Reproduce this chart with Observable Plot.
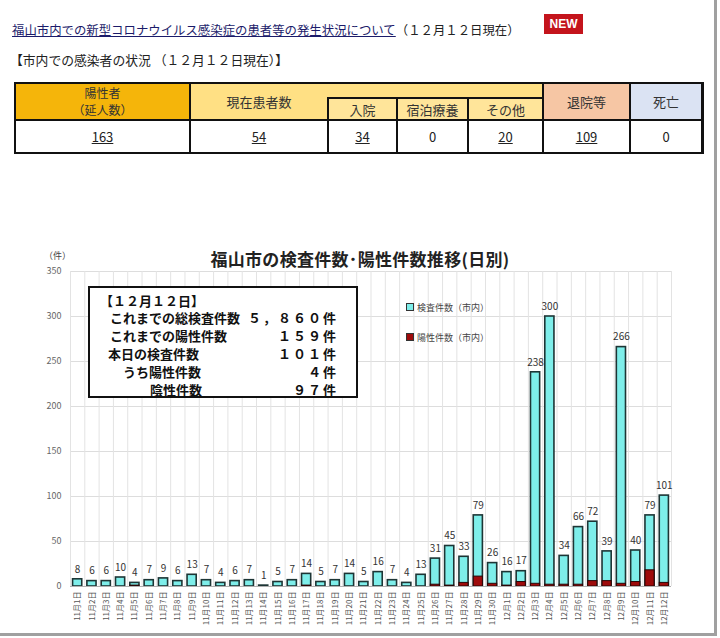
<!DOCTYPE html>
<html><head><meta charset="utf-8">
<script src="https://cdn.jsdelivr.net/npm/d3@7"></script>
<script src="https://cdn.jsdelivr.net/npm/@observablehq/plot@0.6"></script>
<style>
html,body{margin:0;padding:0;background:#fff;}
body{font-family:"Noto Sans CJK JP","Noto Sans",sans-serif;color:#222;}
#page{position:relative;width:714px;height:633px;border-right:3px solid #a0a0a0;border-bottom:3px solid #a0a0a0;overflow:hidden;background:#fff;}
.abs{position:absolute;}
#line1{left:12px;top:21px;font-size:12.4px;white-space:nowrap;}
#line1 a{color:#1b1b6a;text-decoration:underline;}
#newb{left:544px;top:14px;width:39px;height:20px;background:#c4141c;color:#fff;font:bold 12px "Liberation Sans",Arial,sans-serif;text-align:center;line-height:20px;}
#line2{left:10px;top:50px;font-size:12.8px;white-space:nowrap;}
#tbl{left:14px;top:82px;width:690px;height:72px;background:#111;}
.cell{position:absolute;display:flex;align-items:center;justify-content:center;text-align:center;font-size:13px;line-height:15px;color:#333;}
.val{background:#fff;font-size:13px;color:#222;}
.u{text-decoration:underline;}
.tl{position:absolute;left:0;width:100%;text-align:center;font-size:12px;line-height:16px;height:16px;color:#333;}
#chart{left:0;top:240px;width:720px;}
#ctitle{left:0;width:720px;top:246px;text-align:center;font-size:17px;font-weight:bold;color:#222;letter-spacing:0.3px;}
#unit{left:44px;top:249px;font-size:9px;color:#444;}
#inset{left:88px;top:286px;width:270px;height:112px;box-sizing:border-box;border:2px solid #111;background:#fff;}
#inset .r{position:absolute;font-size:13px;font-weight:bold;color:#111;white-space:nowrap;line-height:18px;}
#inset .v{position:absolute;right:18px;font-size:13px;font-weight:bold;color:#111;white-space:nowrap;line-height:18px;letter-spacing:2px;}
.lg{position:absolute;font-size:9px;color:#444;white-space:nowrap;line-height:12px;}
.lg span{display:inline-block;width:6px;height:6px;border:1px solid #333;margin-right:3px;vertical-align:0px;}
</style>
</head><body>
<div id="page">
  <div id="line1" class="abs"><a>福山市内での新型コロナウイルス感染症の患者等の発生状況について</a>（１２月１２日現在）</div>
  <div id="newb" class="abs">NEW</div>
  <div id="line2" class="abs">【市内での感染者の状況 （１２月１２日現在）】</div>
  <div id="tbl" class="abs"></div>
  <div id="chart" class="abs"></div>
  <div id="ctitle" class="abs">福山市の検査件数･陽性件数推移(日別)</div>
  <div id="unit" class="abs">（件）</div>
  <div id="inset" class="abs"></div>
  <div id="legend"></div>
</div>
<script>
// ---- table data ----
const tableHeads = [["陽性者", "（延人数）"], "現在患者数", "入院", "宿泊療養", "その他", "退院等", "死亡"];
const tableValues = ["163", "54", "34", "0", "20", "109", "0"];
const tableLinked = [true, true, true, false, true, true, false];

// ---- inset summary ----
const insetTitle = "【１２月１２日】";
const insetLabels = ["これまでの総検査件数", "これまでの陽性件数", "本日の検査件数", "うち陽性件数", "陰性件数"];
const insetValues = ["５，８６０件", "１５９件", "１０１件", "４件", "９７件"];

// ---- chart data ----
const dates = ["11月1日","11月2日","11月3日","11月4日","11月5日","11月6日","11月7日","11月8日","11月9日","11月10日",
  "11月11日","11月12日","11月13日","11月14日","11月15日","11月16日","11月17日","11月18日","11月19日","11月20日",
  "11月21日","11月22日","11月23日","11月24日","11月25日","11月26日","11月27日","11月28日","11月29日","11月30日",
  "12月1日","12月2日","12月3日","12月4日","12月5日","12月6日","12月7日","12月8日","12月9日","12月10日","12月11日","12月12日"];
const tests = [8,6,6,10,4,7,9,6,13,7, 4,6,7,1,5,7,14,5,7,14, 5,16,7,4,13,31,45,33,79,26, 16,17,238,300,34,66,72,39,266,40,79,101];
const positives = [0,0,0,0,1,0,0,0,0,0, 0,0,0,0,0,0,1,0,0,0, 0,0,0,0,0,2,1,4,11,3, 1,5,3,2,2,2,6,6,3,5,18,4];
const seriesNames = ["検査件数（市内）", "陽性件数（市内）"];
const yTicks = [0,50,100,150,200,250,300,350];

// ---- build table ----
(function(){
  const tbl = document.getElementById("tbl");
  const ox = 14, oy = 82;
  function cell(x0,y0,x1,y1,bg,html,cls){
    const d = document.createElement("div");
    d.className = "cell " + (cls||"");
    d.style.left = (x0+1-ox)+"px"; d.style.top = (y0+1-oy)+"px";
    d.style.width = (x1-x0-2)+"px"; d.style.height = (y1-y0-2)+"px";
    d.style.background = bg;
    d.innerHTML = html;
    tbl.appendChild(d);
    return d;
  }
  function blk(x0,y0,x1,y1){
    const d = document.createElement("div");
    d.style.position="absolute"; d.style.background="#111";
    d.style.left=(x0-ox)+"px"; d.style.top=(y0-oy)+"px";
    d.style.width=(x1-x0)+"px"; d.style.height=(y1-y0)+"px";
    tbl.appendChild(d);
  }
  const xs = [15,190,328,397,468,543,630,702];
  const hy0 = 83, hy1 = 120, vy1 = 153, sy = 98;
  const c0 = cell(15,hy0,190,hy1,"#f5b50a", "");
  tableHeads[0].forEach((t,i)=>{
    const s = document.createElement("div"); s.className="tl"; s.style.top=(1+i*17)+"px"; s.textContent=t; c0.appendChild(s);
  });
  const g = cell(190,hy0,543,hy1,"#ffe084", "");
  const lab = document.createElement("div");
  lab.className="cell"; lab.style.left="0"; lab.style.top="0"; lab.style.width=(328-190-2)+"px"; lab.style.height="100%";
  lab.textContent = tableHeads[1]; g.appendChild(lab);
  blk(327,sy-1,543,hy1);
  cell(328,sy,397,hy1,"#ffe59a", tableHeads[2]);
  cell(397,sy,468,hy1,"#ffe59a", tableHeads[3]);
  cell(468,sy,543,hy1,"#ffe59a", tableHeads[4]);
  cell(543,hy0,630,hy1,"#f6c6a4", tableHeads[5]);
  cell(630,hy0,702,hy1,"#dbe3f3", tableHeads[6]);
  for (let i=0;i<7;i++){
    const v = tableLinked[i] ? `<span class="u">${tableValues[i]}</span>` : tableValues[i];
    cell(xs[i],hy1,xs[i+1],vy1,"#fff", v, "val");
  }
})();

// ---- inset box ----
(function(){
  const box = document.getElementById("inset");
  const t = document.createElement("div"); t.className="r"; t.style.left="10px"; t.style.top="4px"; t.textContent = insetTitle; box.appendChild(t);
  const lefts = [20,20,18,33,60];
  insetLabels.forEach((l,i)=>{
    const a = document.createElement("div"); a.className="r"; a.style.left=lefts[i]+"px"; a.style.top=(21+i*18)+"px"; a.textContent=l; box.appendChild(a);
    const b = document.createElement("div"); b.className="v"; b.style.top=(21+i*18)+"px"; b.textContent=insetValues[i]; box.appendChild(b);
  });
})();

// ---- chart ----
const W = 720, H = 390, ML = 70, MR = 49, MT = 31, MB = 44;
const n = dates.length;
const step = (W - ML - MR) / n;
const rows = dates.map((d,i)=>({date:d, tests:tests[i], pos:positives[i]}));
const cyan = "#7eeeea", red = "#9e0b0b";

const chart = Plot.plot({
  width: W, height: H,
  marginLeft: ML, marginRight: MR, marginTop: MT, marginBottom: MB,
  style: {fontFamily: '"Noto Sans CJK JP", sans-serif', background: "transparent", maxWidth: "none"},
  x: {domain: dates, type: "band", paddingInner: 0.36, paddingOuter: 0.18, round: false},
  y: {domain: [0, 350]},
  marks: [
    Plot.ruleY(yTicks.slice(1), {stroke: "#dddddd"}),
    Plot.ruleX(dates, {x: d => d, dx: -step/2, stroke: "#e3e3e3"}),
    Plot.ruleX([dates[n-1]], {x: d => d, dx: step/2, stroke: "#e3e3e3"}),
    Plot.barY(rows, {x: "date", y: "tests", fill: cyan, stroke: "#1d3535", strokeWidth: 1.6}),
    Plot.barY(rows.filter(d => d.pos > 0), {x: "date", y: "pos", fill: red, stroke: "#2b0606", strokeWidth: 1}),
    Plot.ruleY([0], {stroke: "#b0b0b0"}),
    Plot.text(rows, {x: "date", y: "tests", text: d => String(d.tests), dy: -10, fontSize: 10, fill: "#333"}),
    Plot.axisX({tickSize: 0, tickRotate: -90, tickPadding: 5, fontSize: 8, color: "#555", label: null}),
    Plot.axisY({ticks: yTicks, tickSize: 0, tickPadding: 9, fontSize: 9, color: "#666", label: null})
  ]
});
document.getElementById("chart").appendChild(chart);

// ---- legend ----
(function(){
  const page = document.getElementById("page");
  const cols = [cyan, red];
  seriesNames.forEach((s,i)=>{
    const d = document.createElement("div"); d.className="lg";
    d.style.left="406px"; d.style.top=(302+i*30)+"px";
    d.innerHTML = `<span style="background:${cols[i]}"></span>${s}`;
    page.appendChild(d);
  });
})();
</script>
</body></html>
